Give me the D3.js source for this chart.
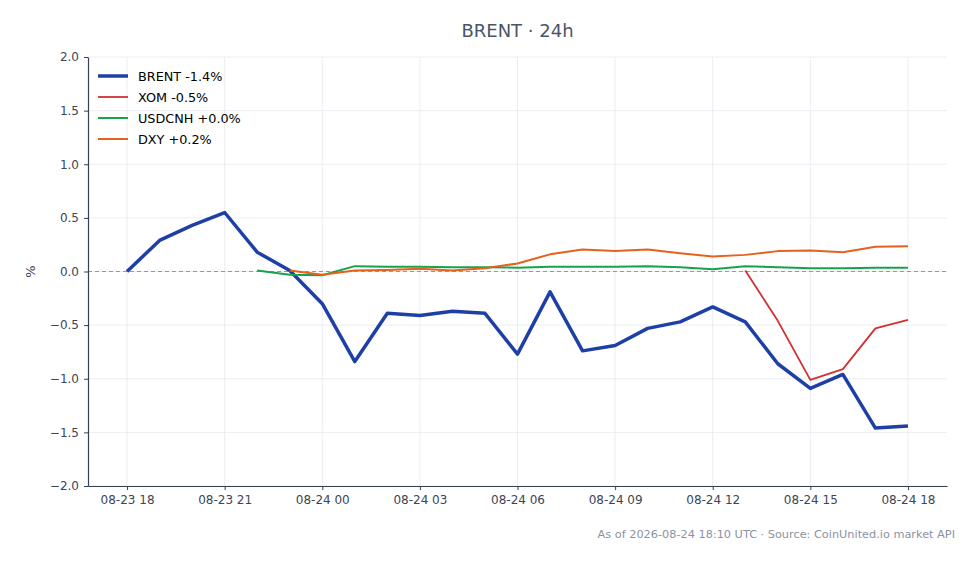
<!DOCTYPE html>
<html>
<head>
<meta charset="utf-8">
<script src="https://cdn.jsdelivr.net/npm/d3@7"></script>
<style>
  body { margin: 0; background: #fff; }
  text { font-family: "DejaVu Sans", sans-serif; }
</style>
</head>
<body>
<div id="chart"></div>
<script>
// hourly timestamps, 08-23 18:00 .. 08-24 18:00 UTC
var hours = d3.range(25).map(function(i) { return new Date(Date.UTC(2026, 7, 23, 18 + i)); });

var brent  = [0, 0.29, 0.43, 0.55, 0.18, 0.01, -0.30, -0.84, -0.39, -0.41, -0.37, -0.39, -0.77,
              -0.19, -0.74, -0.69, -0.53, -0.47, -0.33, -0.47, -0.86, -1.09, -0.96, -1.46, -1.44];
var xom    = [null, null, null, null, null, null, null, null, null, null, null, null, null,
              null, null, null, null, null, null, 0.01, -0.46, -1.01, -0.91, -0.53, -0.45];
var usdcnh = [null, null, null, null, 0.01, -0.03, -0.035, 0.05, 0.045, 0.045, 0.04, 0.04, 0.035,
              0.045, 0.045, 0.045, 0.05, 0.04, 0.02, 0.05, 0.04, 0.03, 0.03, 0.035, 0.035];
var dxy    = [null, null, null, null, null, 0.01, -0.03, 0.01, 0.015, 0.025, 0.01, 0.03, 0.075,
              0.16, 0.205, 0.19, 0.205, 0.17, 0.14, 0.155, 0.19, 0.195, 0.18, 0.23, 0.235];

var seriesNames = ["BRENT -1.4%", "XOM -0.5%", "USDCNH +0.0%", "DXY +0.2%"];
var yTicks = [-2, -1.5, -1, -0.5, 0, 0.5, 1, 1.5, 2];

var series = [
  {name: seriesNames[0], values: brent,  color: "#1e40a6", width: 3.5},
  {name: seriesNames[1], values: xom,    color: "#d32f2f", width: 1.8},
  {name: seriesNames[2], values: usdcnh, color: "#16a34a", width: 2},
  {name: seriesNames[3], values: dxy,    color: "#e8601c", width: 2}
];

var W = 979, H = 564;
var margin = {top: 57, right: 32, bottom: 78, left: 88},
    width = W - margin.left - margin.right,
    height = H - margin.top - margin.bottom;

var svg = d3.select("#chart").append("svg")
  .attr("width", W).attr("height", H);

var g = svg.append("g")
  .attr("transform", "translate(" + margin.left + "," + margin.top + ")");

// 5% padding on the time axis
var t0 = hours[0], t1 = hours[hours.length - 1];
var pad = (t1 - t0) * 0.05;
var x = d3.scaleUtc()
  .domain([new Date(+t0 - pad), new Date(+t1 + pad)])
  .range([0, width]);

var y = d3.scaleLinear()
  .domain([-2, 2])
  .range([height, 0]);

var xTicks = hours.filter(function(d, i) { return i % 3 === 0; });
var fmt = d3.utcFormat("%m-%d %H");
var minus = function(v) { return d3.format(".1f")(v).replace("-", "\u2212"); };

// grid
g.append("g").selectAll("line").data(xTicks).join("line")
  .attr("x1", function(d) { return x(d); }).attr("x2", function(d) { return x(d); })
  .attr("y1", 0).attr("y2", height)
  .attr("stroke", "#e6e9ef").attr("stroke-width", 0.8);
g.append("g").selectAll("line").data(yTicks).join("line")
  .attr("x1", 0).attr("x2", width)
  .attr("y1", function(d) { return y(d); }).attr("y2", function(d) { return y(d); })
  .attr("stroke", "#e6e9ef").attr("stroke-width", 0.8);

// zero line
g.append("line")
  .attr("x1", 0).attr("x2", width)
  .attr("y1", y(0)).attr("y2", y(0))
  .attr("stroke", "#8f99ad").attr("stroke-width", 1)
  .attr("stroke-dasharray", "4,3");

// axes
var xAxis = g.append("g")
  .attr("transform", "translate(0," + height + ")")
  .call(d3.axisBottom(x).tickValues(xTicks).tickFormat(fmt).tickSize(4).tickPadding(5).tickSizeOuter(0));
var yAxis = g.append("g")
  .call(d3.axisLeft(y).tickValues(yTicks).tickFormat(minus).tickSize(4).tickPadding(5).tickSizeOuter(0));

[xAxis, yAxis].forEach(function(a) {
  a.select(".domain").attr("stroke", "#334155").attr("stroke-width", 1.2);
  a.selectAll(".tick line").attr("stroke", "#334155");
  a.selectAll(".tick text").attr("fill", "#3b4556")
    .style("font-family", "DejaVu Sans").style("font-size", "12px");
});

// lines
var line = d3.line()
  .defined(function(d) { return d[1] !== null; })
  .x(function(d) { return x(d[0]); })
  .y(function(d) { return y(d[1]); });

series.forEach(function(s) {
  g.append("path")
    .datum(hours.map(function(h, i) { return [h, s.values[i]]; }))
    .attr("fill", "none")
    .attr("stroke", s.color)
    .attr("stroke-width", s.width)
    .attr("stroke-linejoin", "round")
    .attr("d", line);
});

// legend
var legend = g.append("g").attr("transform", "translate(10,19)");
series.forEach(function(s, i) {
  var row = legend.append("g").attr("transform", "translate(0," + (i * 21) + ")");
  row.append("line").attr("x1", 0).attr("x2", 30).attr("y1", 0).attr("y2", 0)
    .attr("stroke", s.color).attr("stroke-width", s.width);
  row.append("text").attr("x", 40).attr("y", 4.5)
    .attr("font-size", "12.8px").attr("fill", "#000")
    .text(s.name);
});

// title, labels
svg.append("text")
  .attr("x", margin.left + width / 2).attr("y", 37)
  .attr("text-anchor", "middle")
  .attr("font-size", "18px").attr("fill", "#4a5568")
  .text("BRENT \u00b7 24h");

svg.append("text")
  .attr("transform", "translate(35," + (margin.top + y(0)) + ") rotate(-90)")
  .attr("text-anchor", "middle")
  .attr("font-size", "13px").attr("fill", "#3b4556")
  .text("%");

svg.append("text")
  .attr("x", 955).attr("y", 538)
  .attr("text-anchor", "end")
  .attr("font-size", "11.3px").attr("fill", "#8a93a3")
  .text("As of 2026-08-24 18:10 UTC \u00b7 Source: CoinUnited.io market API");
</script>
</body>
</html>
